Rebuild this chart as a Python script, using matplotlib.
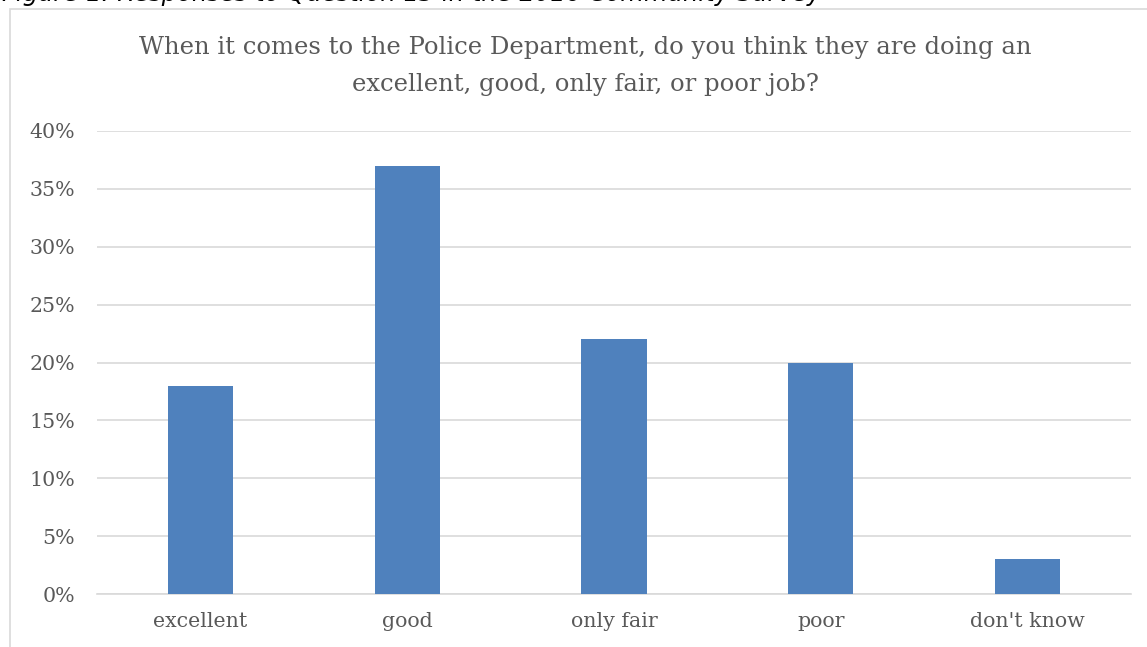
import matplotlib
matplotlib.use('Agg')
import matplotlib.pyplot as plt
from matplotlib.patches import Rectangle
from matplotlib.ticker import MultipleLocator, FuncFormatter

# Survey responses (percent)
categories = ['excellent', 'good', 'only fair', 'poor', "don't know"]
percent = [18, 37, 22, 20, 3]

W, H = 1147, 647
fig = plt.figure(figsize=(W / 100, H / 100), dpi=100)
fig.patch.set_facecolor('white')

# chart frame (cut off at right and bottom like the source)
fig.add_artist(Rectangle((10 / W, -0.1), 1.2, 1 - 9 / H + 0.1, transform=fig.transFigure,
                         fill=False, edgecolor='#d9d9d9', linewidth=1.2))

# caption, clipped at the top of the image as in the source
fig.text(2 / W, 1 - 1.5 / H, 'Figure 1: Responses to Question 13 in the 2016 Community Survey',
         fontsize=17.5, style='italic', color='black', va='baseline', ha='left',
         family='DejaVu Sans')

ax = fig.add_axes([97 / W, 1 - 594 / H, (1131 - 97) / W, (594 - 131) / H])
x = range(len(categories))
ax.bar(x, percent, width=0.315, color='#4f81bd', zorder=3)

ax.set_xlim(-0.5, len(categories) - 0.5)
ax.set_ylim(0, 40)
ax.yaxis.set_major_locator(MultipleLocator(5))
ax.yaxis.set_major_formatter(FuncFormatter(lambda v, p: f'{v:.0f}%'))
ax.set_xticks(list(x))
ax.set_xticklabels(categories)
ax.grid(axis='y', color='#d9d9d9', linewidth=1.2, zorder=0)
for s in ['top', 'right', 'left']:
    ax.spines[s].set_visible(False)
ax.spines['bottom'].set_color('#d9d9d9')
ax.spines['bottom'].set_linewidth(1.2)
ax.tick_params(length=0, colors='#595959', labelsize=14.8)
ax.tick_params(axis='y', pad=16)
ax.tick_params(axis='x', pad=13)
for lab in ax.get_xticklabels() + ax.get_yticklabels():
    lab.set_family('DejaVu Serif')

fig.text(585 / W, 1 - 66 / H,
         'When it comes to the Police Department, do you think they are doing an\nexcellent, good, only fair, or poor job?',
         ha='center', va='center', fontsize=17.5, color='#595959', family='DejaVu Serif',
         linespacing=1.75)

fig.savefig('out.png', dpi=100)
